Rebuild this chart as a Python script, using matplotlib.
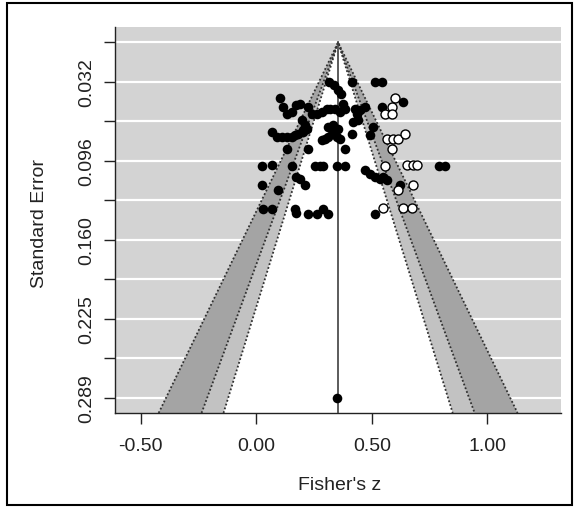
import numpy as np
import matplotlib.pyplot as plt
from matplotlib.patches import Rectangle

plt.rcParams['font.family'] = ['Liberation Sans', 'DejaVu Sans']

# pooled estimate (Fisher's z) and funnel contour levels (90%, 95%, 99%)
est = 0.354
se_max = 0.289
crit = [2.576, 1.960, 1.645]
shade = ['#a4a4a4', '#c2c2c2', 'white']

# observed studies
obs_z = [0.316, 0.337, 0.355, 0.366, 0.415, 0.513, 0.542,
         0.102, 0.117, 0.131, 0.153, 0.174, 0.189, 0.225,
         0.239, 0.261, 0.283, 0.304, 0.319, 0.340, 0.362, 0.376, 0.384,
         0.427, 0.434, 0.448, 0.470, 0.542, 0.636,
         0.196, 0.211, 0.203, 0.311, 0.333, 0.355, 0.326, 0.297, 0.311,
         0.348, 0.362, 0.412, 0.420, 0.441, 0.492, 0.506,
         0.066, 0.088, 0.110, 0.131, 0.153, 0.167, 0.182, 0.203, 0.218,
         0.131, 0.225, 0.384, 0.283,
         0.023, 0.066, 0.153, 0.254, 0.275, 0.290, 0.348, 0.384,
         0.470, 0.492, 0.513, 0.535, 0.549, 0.564, 0.792, 0.816,
         0.023, 0.095, 0.174, 0.189, 0.211, 0.621,
         0.030, 0.066, 0.167, 0.174, 0.225, 0.261, 0.290, 0.311, 0.513,
         0.348]
obs_se = [0.0326, 0.0348, 0.0388, 0.0416, 0.0326, 0.0326, 0.0326,
          0.0456, 0.0524, 0.0579, 0.0565, 0.0511, 0.0497, 0.0524,
          0.0579, 0.0579, 0.0565, 0.0538, 0.0538, 0.0538, 0.0565, 0.0497, 0.0538,
          0.0538, 0.0579, 0.0551, 0.0524, 0.0524, 0.0483,
          0.0633, 0.0674, 0.0714, 0.0687, 0.0674, 0.0701, 0.0741, 0.0782, 0.0769,
          0.0769, 0.0782, 0.0741, 0.0646, 0.0633, 0.0755, 0.0687,
          0.0728, 0.0769, 0.0769, 0.0769, 0.0769, 0.0755, 0.0741, 0.0728, 0.0701,
          0.0864, 0.0864, 0.0864, 0.0796,
          0.1005, 0.0999, 0.1005, 0.1005, 0.1005, 0.1005, 0.1005, 0.1005,
          0.1040, 0.1067, 0.1095, 0.1108, 0.1095, 0.1122, 0.1005, 0.1005,
          0.1162, 0.1203, 0.1095, 0.1108, 0.1162, 0.1162,
          0.1353, 0.1353, 0.1353, 0.1385, 0.1393, 0.1393, 0.1353, 0.1393, 0.1393,
          0.2890]

# studies imputed by trim-and-fill
fill_z = [0.600, 0.585, 0.557, 0.585, 0.564, 0.593, 0.614, 0.643, 0.585,
          0.557, 0.650, 0.679, 0.696, 0.614, 0.679, 0.549, 0.636, 0.675]
fill_se = [0.0456, 0.0524, 0.0579, 0.0579, 0.0782, 0.0782, 0.0782, 0.0741, 0.0864,
           0.1005, 0.0999, 0.0999, 0.0999, 0.1203, 0.1162, 0.1347, 0.1347, 0.1347]

yticks = np.linspace(0, se_max, 10)
ylabels = ['', '0.032', '', '0.096', '', '0.160', '', '0.225', '', '0.289']
xticks = [-0.5, 0.0, 0.5, 1.0]
xlabels = ['-0.50', '0.00', '0.50', '1.00']

txt = '#222222'

fig = plt.figure(figsize=(5.77, 5.10), dpi=100)
ax = fig.add_axes([115 / 577, 1 - 414 / 510, 446 / 577, 386 / 510])
ax.set_xlim(-0.611, 1.318)
ybot = 0.3013
ax.set_ylim(ybot, -0.0125)
ax.set_facecolor('#d3d3d3')

for y in yticks:
    ax.axhline(y, color='white', lw=1.6, zorder=1)

for c, col in zip(crit, shade):
    ax.fill([est - c * ybot, est, est + c * ybot], [ybot, 0, ybot],
            color=col, lw=0, zorder=2)
for c in crit:
    ax.plot([est - c * ybot, est, est + c * ybot], [ybot, 0, ybot],
            ls=(0, (1, 1.2)), color='#303030', lw=1.3, zorder=3)

ax.plot([est, est], [0, ybot], color='#404040', lw=1.2, zorder=3)

ax.scatter(obs_z, obs_se, s=48, c='black', lw=0, zorder=5, clip_on=False)
ax.scatter(fill_z, fill_se, s=42, facecolor='white', edgecolor='black',
           lw=1.0, zorder=5)

for s in ['top', 'right']:
    ax.spines[s].set_visible(False)
for s in ['left', 'bottom']:
    ax.spines[s].set_color('#222222')
    ax.spines[s].set_linewidth(1.0)

ax.set_xticks(xticks)
ax.set_xticklabels(xlabels)
ax.set_yticks(yticks)
ax.set_yticklabels(ylabels, rotation=90, va='center')
ax.tick_params(axis='both', length=8, width=1, color='#222222',
               labelsize=14, labelcolor=txt)
ax.tick_params(axis='x', pad=9)
ax.tick_params(axis='y', pad=6)

fig.text(40 / 577, 1 - 224 / 510, 'Standard Error', rotation=90,
         ha='center', va='center', fontsize=14, color=txt)
fig.text(340 / 577, 1 - 486 / 510, "Fisher's z",
         ha='center', va='center', fontsize=14, color=txt)

fig.add_artist(Rectangle((7 / 577, 4 / 510), 565 / 577, 502 / 510,
                         transform=fig.transFigure, fill=False,
                         edgecolor='black', lw=1.5))

fig.savefig('out.png', dpi=100)
